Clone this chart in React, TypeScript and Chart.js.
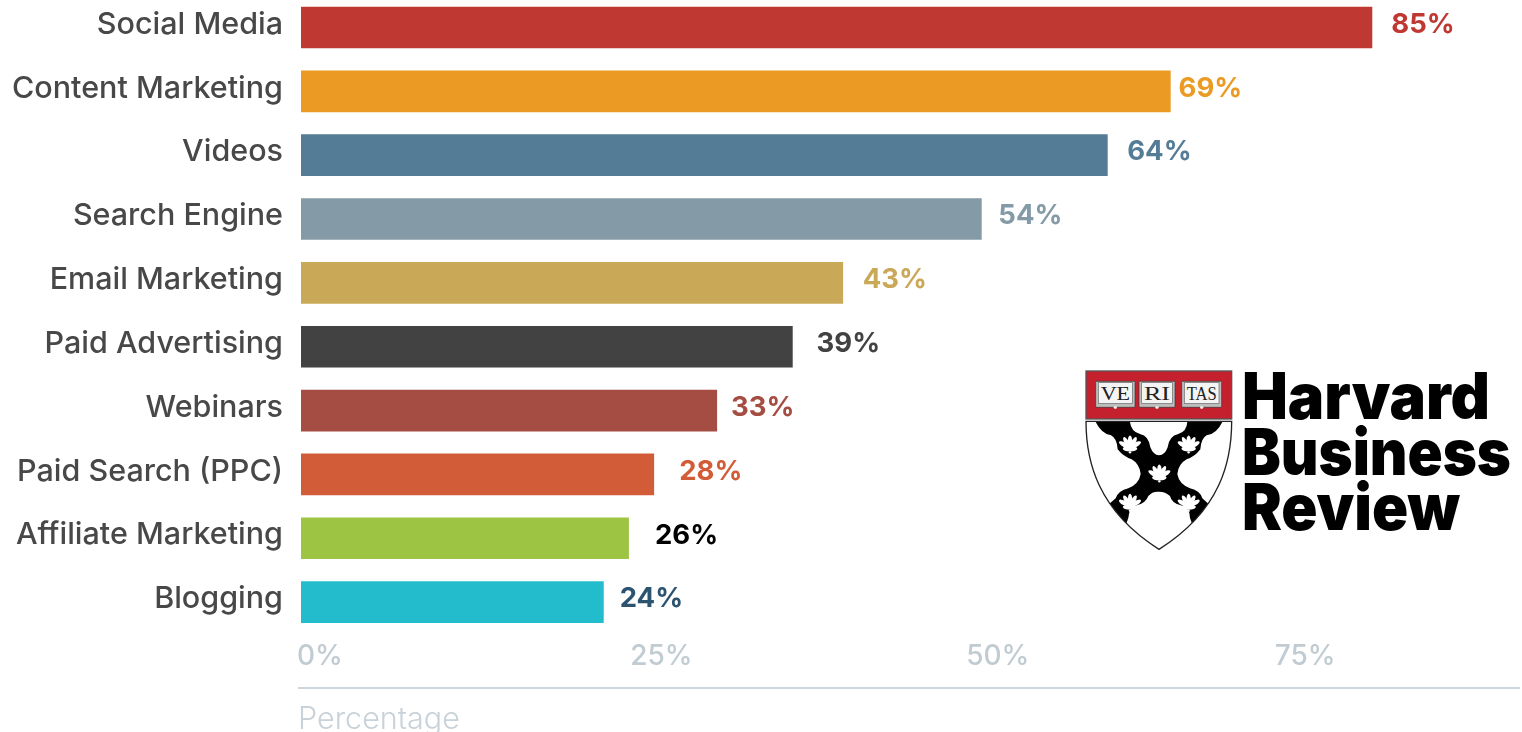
import React, { useEffect, useRef } from "react";
import { Chart, registerables } from "chart.js";

Chart.register(...registerables);

const channels = [
  "Social Media",
  "Content Marketing",
  "Videos",
  "Search Engine",
  "Email Marketing",
  "Paid Advertising",
  "Webinars",
  "Paid Search (PPC)",
  "Affiliate Marketing",
  "Blogging",
];
const shares = [85, 69, 64, 54, 43, 39, 33, 28, 26, 24];
const barColors = ["#bf3832", "#eb9b24", "#557c96", "#849ba7", "#c9a857", "#424242", "#a54c43", "#d35c38", "#9ec443", "#22bccc"];
const labelColors = ["#bf3832", "#eb9b24", "#557c96", "#849ba7", "#c9a857", "#424242", "#a54c43", "#d35c38", "#000000", "#2c5470"];
// Distance from a bar's end to the centre of its value label.
const labelGaps = [51, 40, 52, 49, 52, 56, 46, 57, 58, 48];
const tickLabels = ["0%", "25%", "50%", "75%"];
// The axis captions sit at these places along the value scale.
const tickAnchors = [1.5, 28.6, 55.3, 79.7];
const axisTitle = "Percentage";

const FONT = "Inter, 'Open Sans', sans-serif";

const valueLabels = {
  id: "valueLabels",
  afterDatasetsDraw(chart: any) {
    const { ctx } = chart;
    const bars = chart.getDatasetMeta(0).data;
    ctx.save();
    ctx.font = `700 27.5px ${FONT}`;
    ctx.textAlign = "center";
    ctx.textBaseline = "middle";
    bars.forEach((bar: any, i: number) => {
      ctx.fillStyle = labelColors[i];
      ctx.fillText(`${shares[i]}%`, bar.x + labelGaps[i], bar.y - 3);
    });
    ctx.restore();
  },
};

const axisDecor = {
  id: "axisDecor",
  afterDraw(chart: any) {
    const { ctx } = chart;
    const scale = chart.scales.x;
    ctx.save();
    ctx.strokeStyle = "#cdd6dc";
    ctx.lineWidth = 2;
    ctx.beginPath();
    ctx.moveTo(scale.left - 3, 693);
    ctx.lineTo(scale.right, 693);
    ctx.stroke();
    ctx.fillStyle = "#c8d2d8";
    ctx.font = `300 30.5px ${FONT}`;
    ctx.textAlign = "left";
    ctx.textBaseline = "middle";
    ctx.fillText(axisTitle, scale.left - 3, 725);
    ctx.restore();
  },
};

// Saltire of the shield: each arm runs out to the shield's edge.
const armPath =
  "M62 186 H165 Q168 215 195 222 Q222 228 226 262 Q235 285 252 286 Q270 285 278 262 Q282 228 310 222 Q335 215 337 186 H442 " +
  "Q425 222 395 226 Q378 235 376 268 Q360 290 335 298 Q310 312 307 342 Q312 372 345 385 Q375 392 382 415 L405 436 " +
  "L355 502 L345 474 Q345 442 318 436 Q290 430 285 408 Q270 394 250 395 Q232 394 220 408 Q212 430 185 436 Q162 442 160 474 L150 502 " +
  "L98 436 L122 415 Q130 392 160 385 Q192 372 197 342 Q194 312 170 298 Q145 290 128 268 Q126 235 108 226 Q80 222 62 186 Z";

const shieldOutline = "M33 184 H470 C470 300 440 450 252 568 C65 450 33 300 33 184 Z";

const shellSpots: [number, number][] = [
  [165, 250],
  [341, 250],
  [253, 337],
  [165, 425],
  [341, 425],
];

function Shell({ x, y }: { x: number; y: number }) {
  const spokes = [-60, -30, 0, 30, 60];
  return (
    <g transform={`translate(${x} ${y}) scale(0.9)`}>
      {spokes.map((a) => (
        <ellipse key={a} cx={0} cy={-6} rx={7.5} ry={20} fill="#fff" transform={`rotate(${a} 0 16)`} />
      ))}
      <ellipse cx={0} cy={18} rx={24} ry={9} fill="#fff" />
      <circle cx={0} cy={30} r={4} fill="#fff" />
    </g>
  );
}

function Book({ x, w, word }: { x: number; w: number; word: string }) {
  return (
    <g>
      <rect x={x} y={64} width={w} height={78} rx={3} fill="#bdbdbd" stroke="#333" strokeWidth={2} />
      <rect x={x + 8} y={68} width={w - 16} height={62} fill="#f4f4f4" stroke="#666" strokeWidth={2} />
      <circle cx={x + w / 2} cy={142} r={5} fill="#e8e8e8" />
      <text
        x={x + w / 2}
        y={119}
        textAnchor="middle"
        fontFamily="'Liberation Serif', serif"
        fontSize={54}
        textLength={w - 30}
        lengthAdjust="spacingAndGlyphs"
        fill="#222"
      >
        {word}
      </text>
    </g>
  );
}

function Crest() {
  return (
    <svg
      viewBox="0 0 510 585"
      width={170}
      height={195}
      style={{ position: "absolute", left: 1075, top: 360 }}
    >
      <defs>
        <clipPath id="shield-clip">
          <path d={shieldOutline} />
        </clipPath>
      </defs>
      <rect x={33} y={33} width={437} height={144} fill="#c5202e" stroke="#555" strokeWidth={4} />
      <Book x={62} w={118} word="VE" />
      <Book x={192} w={108} word="RI" />
      <Book x={320} w={120} word="TAS" />
      <path d={shieldOutline} fill="#fff" />
      <path d={armPath} fill="#000" clipPath="url(#shield-clip)" />
      <path d={shieldOutline} fill="none" stroke="#222" strokeWidth={4} />
      {shellSpots.map(([x, y]) => (
        <Shell key={`${x}-${y}`} x={x} y={y} />
      ))}
    </svg>
  );
}

function Wordmark() {
  const lines: [string, number, number][] = [
    ["Harvard", 419, 248],
    ["Business", 475, 269],
    ["Review", 530, 218],
  ];
  return (
    <svg width={300} height={190} style={{ position: "absolute", left: 1232, top: 360 }}>
      {lines.map(([word, base, len]) => (
        <text
          key={word}
          x={10}
          y={base - 360}
          textLength={len}
          lengthAdjust="spacingAndGlyphs"
          fontFamily="Inter, Roboto, sans-serif"
          fontWeight={900}
          fontSize={64}
          fill="#000"
        >
          {word}
        </text>
      ))}
    </svg>
  );
}

export default function App() {
  const canvasRef = useRef<HTMLCanvasElement>(null);

  useEffect(() => {
    const chart = new Chart(canvasRef.current as HTMLCanvasElement, {
      type: "bar",
      data: {
        labels: channels,
        datasets: [{ data: shares, backgroundColor: barColors, barThickness: 41, borderWidth: 0 }],
      },
      options: {
        indexAxis: "y",
        animation: false,
        responsive: false,
        devicePixelRatio: 1,
        layout: { padding: { top: 0.6, right: 2 } },
        plugins: { legend: { display: false }, tooltip: { enabled: false } },
        scales: {
          x: {
            min: 0,
            max: 96.75,
            border: { display: false },
            grid: { display: false, drawTicks: false },
            afterFit(scale: any) {
              scale.height = 98;
              scale.paddingLeft = 0;
              scale.paddingRight = 0;
            },
            afterBuildTicks(scale: any) {
              scale.ticks = tickAnchors.map((value) => ({ value }));
            },
            ticks: {
              autoSkip: false,
              maxRotation: 0,
              padding: 6,
              color: "#c0ccd2",
              font: { family: FONT, size: 28, weight: 500 },
              callback: (_v: any, i: number) => tickLabels[i],
            },
          },
          y: {
            border: { display: false },
            grid: { display: false, drawTicks: false },
            afterFit(scale: any) {
              scale.width = 301;
              scale.paddingTop = 0;
              scale.paddingBottom = 0;
            },
            ticks: {
              padding: 18,
              labelOffset: -3,
              color: "#484848",
              font: { family: FONT, size: 30.5, weight: 500 },
            },
          },
        },
      } as any,
      plugins: [valueLabels, axisDecor],
    });
    return () => chart.destroy();
  }, []);

  return (
    <div style={{ position: "fixed", left: 0, top: 0, width: 1522, height: 732, overflow: "hidden", background: "#fff" }}>
      <canvas ref={canvasRef} width={1522} height={737} style={{ position: "absolute", left: 0, top: -5 }} />
      <Crest />
      <Wordmark />
    </div>
  );
}
